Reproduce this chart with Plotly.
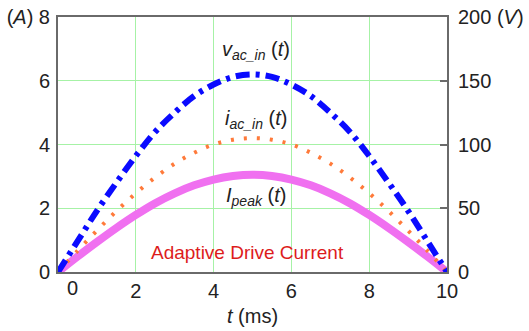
import plotly.graph_objects as go

# time axis (ms)
t_ms = [0, 0.5, 1, 1.5, 2, 2.5, 3, 3.5, 4, 4.5, 5, 5.5, 6, 6.5, 7, 7.5, 8, 8.5, 9, 9.5, 10]
# input voltage (V), right axis
v_ac_in = [0, 24, 48, 70, 91, 110, 125, 138, 147, 153, 155, 153, 147, 138, 125, 110, 91, 70, 48, 24, 0]
# input current (A), left axis
i_ac_in = [0, 0.66, 1.30, 1.91, 2.47, 2.97, 3.40, 3.74, 4.00, 4.15, 4.20, 4.15, 4.00, 3.74, 3.40, 2.97, 2.47, 1.91, 1.30, 0.66, 0]
# peak drive current (A), left axis
i_peak = [0, 0.48, 0.94, 1.38, 1.79, 2.16, 2.47, 2.72, 2.90, 3.01, 3.05, 3.01, 2.90, 2.72, 2.47, 2.16, 1.79, 1.38, 0.94, 0.48, 0]

x_ticks = [2, 4, 6, 8, 10]
y_left_ticks = [0, 2, 4, 6, 8]
y_left_text = ["0", "2", "4", "6", "(<i>A</i>) 8"]
y_right_ticks = [0, 50, 100, 150, 200]
y_right_text = ["0", "50", "100", "150", "200 (<i>V</i>)"]

FONT = "Liberation Sans, Arial, sans-serif"
FRAME = "#6a6a6a"
GRID = "#a6f2a6"
TICK_SIZE = 20

fig = go.Figure()
fig.add_trace(go.Scatter(x=t_ms, y=i_peak, mode="lines", yaxis="y",
                         line=dict(color="#f070f0", width=8, shape="spline")))
fig.add_trace(go.Scatter(x=t_ms, y=i_ac_in, mode="lines", yaxis="y",
                         line=dict(color="#ff7a3a", width=4, dash="3px,10px", shape="spline")))
fig.add_trace(go.Scatter(x=t_ms, y=v_ac_in, mode="lines", yaxis="y2",
                         line=dict(color="#0a0aff", width=6, dash="14px,6px,4px,6px", shape="spline")))

fig.update_layout(
    width=529, height=331,
    margin=dict(l=58, r=82, t=17, b=59),
    paper_bgcolor="white", plot_bgcolor="white",
    showlegend=False,
    font=dict(family=FONT, size=TICK_SIZE, color="#222222"),
    xaxis=dict(range=[0, 10], tickvals=x_ticks, showgrid=True, gridcolor=GRID, gridwidth=1,
               showline=True, linecolor=FRAME, linewidth=2, mirror=True, zeroline=False,
               ticks="", tickfont=dict(size=TICK_SIZE), ticklabelstandoff=0, automargin=False,
               title=dict(text="<i>t</i> (ms)", font=dict(size=TICK_SIZE), standoff=8)),
    yaxis=dict(range=[0, 8], tickvals=y_left_ticks, ticktext=y_left_text, showgrid=True,
               gridcolor=GRID, gridwidth=1, showline=True, linecolor=FRAME, linewidth=2,
               mirror=True, zeroline=False, ticks="", tickfont=dict(size=TICK_SIZE),
               ticklabelstandoff=2, automargin=False),
    yaxis2=dict(range=[0, 200], tickvals=y_right_ticks, ticktext=y_right_text, overlaying="y",
                side="right", showgrid=False, zeroline=False, showline=False,
                ticks="inside", ticklen=7, tickwidth=2, tickcolor=FRAME, automargin=False,
                tickfont=dict(size=TICK_SIZE), ticklabelstandoff=10),
)

# shifted x "0" label as in the original
fig.add_annotation(x=0.36, y=0, xref="x", yref="paper", yanchor="top", text="0",
                   showarrow=False, yshift=-3, font=dict(size=TICK_SIZE, color="#222222"))

labels = [
    (5.1, 6.96, "<i>v</i><sub><i>ac_in</i></sub> (<i>t</i>)"),
    (5.1, 4.79, "<i>i</i><sub><i>ac_in</i></sub> (<i>t</i>)"),
    (5.1, 2.36, "<i>I</i><sub><i>peak</i></sub> (<i>t</i>)"),
]
for x, y, txt in labels:
    fig.add_annotation(x=x, y=y, xref="x", yref="y", text=txt, showarrow=False,
                       font=dict(size=20, color="#222222"))

fig.add_annotation(x=4.88, y=0.6, xref="x", yref="y", text="Adaptive Drive Current",
                   showarrow=False, font=dict(size=19, color="#dd1c1c"))

fig.write_html("out.html")
